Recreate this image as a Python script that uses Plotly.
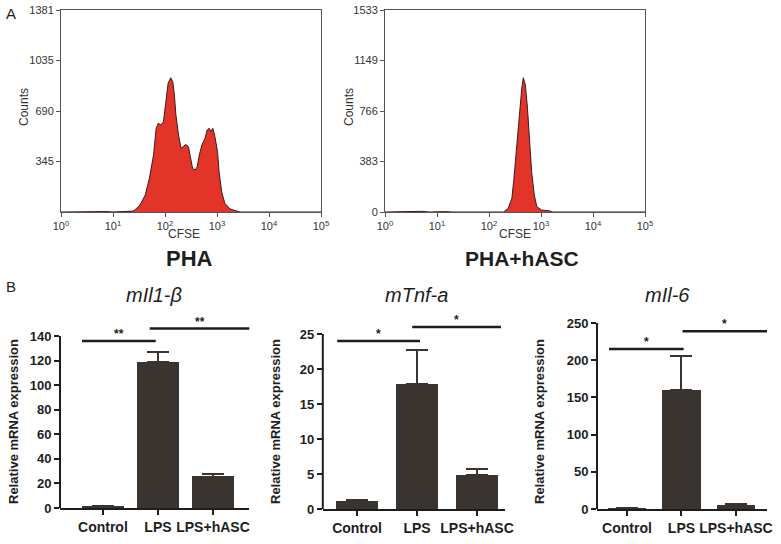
import plotly.graph_objects as go

W, H = 781, 544

# ---------------- data ----------------
# Flow cytometry histograms (log10 CFSE position, counts)
pha_log = [0.00, 0.30, 0.45, 0.65, 0.80, 0.90, 1.00, 1.15, 1.30, 1.38,
           1.42, 1.52, 1.62, 1.70, 1.78, 1.83, 1.87, 1.92, 1.97, 2.02,
           2.06, 2.11, 2.15, 2.18, 2.21, 2.26, 2.31, 2.35, 2.40, 2.45,
           2.49, 2.53, 2.58, 2.62, 2.66, 2.71, 2.77, 2.81, 2.85, 2.88,
           2.92, 2.96, 3.01, 3.04, 3.09, 3.15, 3.25, 3.38, 3.44, 5.00]
pha_counts = [0, 2, 0, 4, 7, 3, 0, 3, 4, 6,
              14, 48, 116, 230, 390, 572, 606, 595, 617, 754,
              880, 918, 891, 800, 663, 526, 435, 447, 462, 447,
              367, 299, 287, 310, 390, 458, 504, 560, 572, 549,
              572, 515, 412, 275, 139, 59, 21, 9, 0, 0]

hasc_log = [0.00, 0.55, 0.70, 0.85, 1.00, 1.15, 1.30, 1.90, 2.00, 2.10,
            2.28, 2.37, 2.44, 2.48, 2.53, 2.58, 2.63, 2.66, 2.70, 2.74,
            2.78, 2.82, 2.87, 2.92, 3.01, 3.17, 3.22, 5.00]
hasc_counts = [0, 3, 5, 0, 4, 3, 0, 3, 4, 0,
               0, 28, 104, 256, 483, 736, 938, 1019, 964, 787,
               559, 306, 129, 40, 15, 8, 0, 0]

pha_yticks = [345, 690, 1035, 1381]
hasc_yticks = [0, 383, 766, 1149, 1533]
decades = [0, 1, 2, 3, 4, 5]

# qPCR bar charts
categories = ["Control", "LPS", "LPS+hASC"]
il1b_mean = [1.0, 118.5, 25.5]
il1b_err = [0.3, 8.5, 2.0]
tnf_mean = [1.1, 17.9, 4.9]
tnf_err = [0.2, 4.8, 0.75]
il6_mean = [1.5, 160.0, 5.5]
il6_err = [0.3, 45.0, 0.8]

il1b_ticks = [0, 20, 40, 60, 80, 100, 120, 140]
tnf_ticks = [0, 5, 10, 15, 20, 25]
il6_ticks = [0, 50, 100, 150, 200, 250]

# significance brackets: (x start, x end, level, label)
il1b_sig = [(-0.38, 0.96, 136, "**"), (0.85, 2.69, 146, "**")]
tnf_sig = [(-0.33, 1.05, 24.0, "*"), (0.92, 2.40, 26.0, "*")]
il6_sig = [(-0.33, 1.04, 215, "*"), (1.02, 2.57, 239, "*")]

# ---------------- helpers (pixel -> paper fraction) ----------------
def px_x(px):
    return px / W

def px_y(py):
    return 1 - py / H

def xd(px0, px1):
    return [px_x(px0), px_x(px1)]

def yd(top, bottom):
    return [px_y(bottom), px_y(top)]

FONT = "Liberation Sans, Arial, Helvetica, sans-serif"
RED = "#E3342A"
BAR = "#3A3431"
INK = "#1E1E1E"

fig = go.Figure()

# histograms
fig.add_trace(go.Scatter(x=[10 ** v for v in pha_log], y=pha_counts, mode="lines",
                         fill="tozeroy", fillcolor=RED,
                         line=dict(color="#3a1c1a", width=1), xaxis="x", yaxis="y",
                         showlegend=False))
fig.add_trace(go.Scatter(x=[10 ** v for v in hasc_log], y=hasc_counts, mode="lines",
                         fill="tozeroy", fillcolor=RED,
                         line=dict(color="#3a1c1a", width=1), xaxis="x2", yaxis="y2",
                         showlegend=False))

hist_x = dict(type="log", range=[0, 5], tickvals=[10 ** d for d in decades],
              ticktext=["10<sup>%d</sup>" % d for d in decades],
              showline=True, mirror=True, linecolor="#555", linewidth=1,
              ticks="outside", ticklen=4, tickcolor="#555", showgrid=False, zeroline=False,
              automargin=False, ticklabeloverflow="allow",
              tickfont=dict(family=FONT, size=11, color="#333"))
hist_y = dict(showline=True, mirror=True, linecolor="#555", linewidth=1,
              ticks="outside", ticklen=4, tickcolor="#555", showgrid=False, zeroline=False,
              automargin=False, ticklabeloverflow="allow",
              tickfont=dict(family=FONT, size=11, color="#333"))

fig.update_layout(
    xaxis=dict(hist_x, domain=xd(61, 321), anchor="y"),
    yaxis=dict(hist_y, domain=yd(10, 212), anchor="x", range=[0, 1381], tickvals=pha_yticks),
    xaxis2=dict(hist_x, domain=xd(385, 645), anchor="y2"),
    yaxis2=dict(hist_y, domain=yd(10, 212), anchor="x2", range=[0, 1533], tickvals=hasc_yticks),
)

# bar charts
bar_specs = [
    ("3", il1b_mean, il1b_err, il1b_ticks, il1b_sig, 0.76, xd(60, 249.3), [-0.78, 2.66],
     yd(311.4, 508), [0, 160], "<i>mIl1-β</i>", 154, 13),
    ("4", tnf_mean, tnf_err, tnf_ticks, tnf_sig, 0.70, xd(322.8, 505.2), [-0.57, 2.47],
     yd(313, 509), [0, 28], "<i>mTnf-a</i>", 416, 275),
    ("5", il6_mean, il6_err, il6_ticks, il6_sig, 0.70, xd(597, 767), [-0.55, 2.57],
     yd(315.5, 509), [0, 260], "<i>mIl-6</i>", 667, 539),
]

shapes = []
annotations = []
xpos = list(range(len(categories)))

for (n, mean, err, ticks, sig, bw, xdom, xr, ydom, yr, title, tx, ytx) in bar_specs:
    fig.add_trace(go.Bar(x=xpos, y=mean, width=bw, marker=dict(color=BAR, line=dict(width=0)),
                         error_y=dict(type="data", array=err, symmetric=False,
                                      arrayminus=[0] * len(err), color=BAR,
                                      thickness=2, width=11),
                         xaxis="x" + n, yaxis="y" + n, showlegend=False))
    fig.update_layout(**{
        "xaxis" + n: dict(domain=xdom, range=xr, anchor="y" + n, tickvals=xpos,
                          ticktext=categories, showline=True, linewidth=2, linecolor=INK,
                          ticks="outside", ticklen=5, tickwidth=2, tickcolor=INK,
                          showgrid=False, zeroline=False, automargin=False,
                          tickfont=dict(family=FONT, size=14, color=INK, weight="bold")),
        "yaxis" + n: dict(domain=ydom, range=yr, anchor="x" + n, tickvals=ticks,
                          showline=False, ticks="outside", ticklen=5, tickwidth=2,
                          tickcolor=INK, showgrid=False, zeroline=False, automargin=False,
                          tickfont=dict(family=FONT, size=13, color=INK, weight="bold")),
    })
    shapes.append(dict(type="line", xref="x" + n + " domain", yref="y" + n,
                       x0=0, x1=0, y0=0, y1=ticks[-1], line=dict(color=INK, width=2)))
    for (a, b, lvl, lab) in sig:
        shapes.append(dict(type="line", xref="x" + n, yref="y" + n, x0=a, x1=b,
                           y0=lvl, y1=lvl, line=dict(color=INK, width=2.5)))
        annotations.append(dict(xref="x" + n, yref="y" + n, x=(a + b) / 2, y=lvl,
                                text=lab, showarrow=False, yanchor="bottom", yshift=-2,
                                font=dict(family=FONT, size=12, color=INK, weight="bold")))
    annotations.append(dict(xref="paper", yref="paper", x=px_x(tx), y=px_y(295),
                            text=title, showarrow=False, xanchor="center", yanchor="middle",
                            font=dict(family=FONT, size=20, color=INK)))
    annotations.append(dict(xref="paper", yref="paper", x=px_x(ytx), y=px_y(422),
                            text="Relative mRNA expression", textangle=-90, showarrow=False,
                            xanchor="center", yanchor="middle",
                            font=dict(family=FONT, size=13, color=INK, weight="bold")))

# text labels for histogram panels
def txt(x, y, s, size, bold=False, angle=0, color=INK):
    return dict(xref="paper", yref="paper", x=px_x(x), y=px_y(y), text=s,
                showarrow=False, xanchor="center", yanchor="middle", textangle=angle,
                font=dict(family=FONT, size=size, color=color,
                          weight="bold" if bold else "normal"))

annotations += [
    txt(11, 13, "A", 15),
    txt(11, 286, "B", 15),
    txt(189, 258, "PHA", 22, bold=True),
    txt(522, 258, "PHA+hASC", 21, bold=True),
    txt(184, 234, "CFSE", 12, color="#333"),
    txt(515, 234, "CFSE", 12, color="#333"),
    txt(24, 107, "Counts", 12, angle=-90, color="#333"),
    txt(349, 107, "Counts", 12, angle=-90, color="#333"),
]

fig.update_layout(
    width=W, height=H, margin=dict(l=0, r=0, t=0, b=0, pad=0, autoexpand=False),
    paper_bgcolor="white", plot_bgcolor="white",
    shapes=shapes, annotations=annotations, bargap=0,
    font=dict(family=FONT),
)

# remove the browser's default 8px body margin so the figure fills the window
fig.write_html("out.html",
               config={"displayModeBar": False},
               post_script="document.body.style.margin='0';document.body.style.overflow='hidden';")
